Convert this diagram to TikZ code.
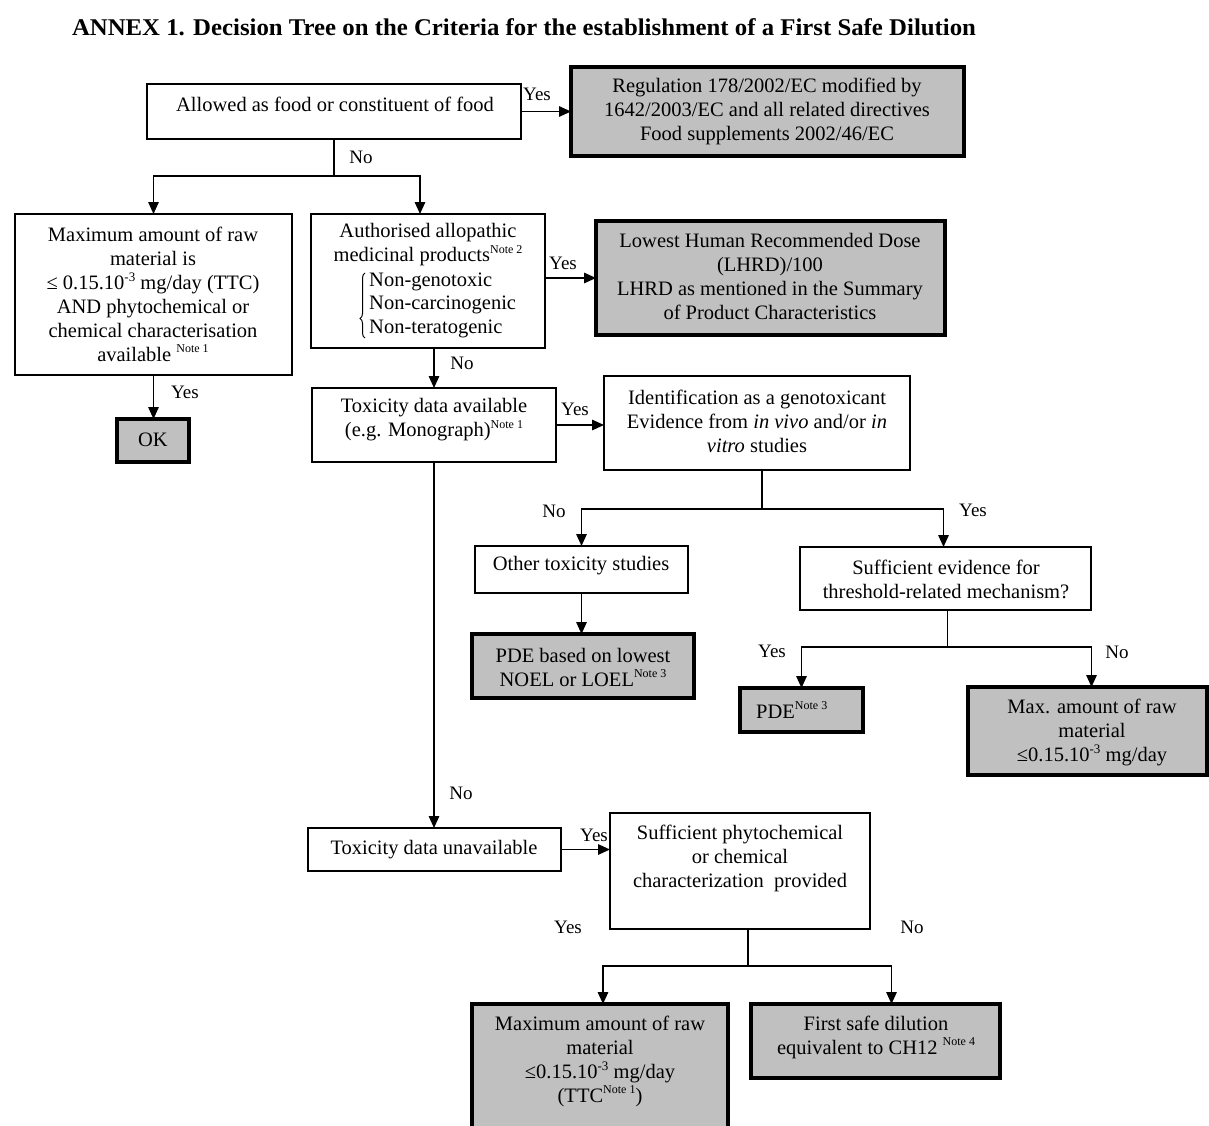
\documentclass[tikz,border=0pt]{standalone}
\usepackage{fontspec}
\setmainfont{Liberation Serif}
\usepackage{graphicx}
\usetikzlibrary{arrows.meta,decorations.pathreplacing}
\definecolor{boxgray}{RGB}{192,192,192}
\newcommand{\nt}[1]{\raisebox{0.9ex}{\fontsize{12}{12}\selectfont #1}}
\newcommand{\spx}[1]{\raisebox{0.85ex}{\fontsize{13}{13}\selectfont #1}}
\newcommand{\boxnode}[6]{\node[#1, minimum width={#5-#3}, minimum height={#6-#4}] (#2) at (#3,#4) {};}
\begin{document}
\begin{tikzpicture}[x=1pt,y=-1pt,
  font=\fontsize{20.5}{24}\selectfont,
  plain/.style={draw=black, line width=1.3pt, inner sep=0pt, outer sep=0pt, anchor=north west},
  result/.style={draw=black, fill=boxgray, line width=3.2pt, inner sep=0pt, outer sep=0pt, anchor=north west},
  txt/.style={align=center, inner sep=0pt},
  conn/.style={line width=1.5pt},
  arr/.style={conn, -{Triangle[length=12pt,width=10.5pt]}},
  lbl/.style={inner sep=0pt, font=\fontsize{19}{22}\selectfont}]
\useasboundingbox (0,0) rectangle (1209,1126);
\fill[white] (0,0) rectangle (1209,1126);

% title
\node[inner sep=0pt] (title) at (524,27) {\resizebox{904pt}{\height}{\fontsize{24}{26}\selectfont\bfseries ANNEX 1. Decision Tree on the Criteria for the establishment of a First Safe Dilution}};

% boxes
\boxnode{plain}{a1}{147}{84}{521}{139}
\boxnode{result}{reg}{571}{67}{964}{156}
\boxnode{plain}{max1}{15}{214}{292}{375}
\boxnode{result}{ok}{117}{419}{189}{462}
\boxnode{plain}{auth}{311}{214}{545}{348}
\boxnode{result}{lhrd}{596}{221}{945}{335}
\boxnode{plain}{tox}{312}{388}{556}{462}
\boxnode{plain}{ident}{604}{376}{910}{470}
\boxnode{plain}{other}{475}{546}{688}{593}
\boxnode{result}{pde1}{472}{634}{694}{698}
\boxnode{plain}{suff}{800}{547}{1091}{610}
\boxnode{result}{pde2}{740}{688}{863}{732}
\boxnode{result}{max2}{968}{687}{1207}{775}
\boxnode{plain}{unav}{308}{828}{561}{871}
\boxnode{plain}{charz}{610}{813}{870}{929}
\boxnode{result}{maxf}{472}{1004}{728}{1135}
\boxnode{result}{first}{751}{1004}{1000}{1078}

% texts
\node[txt] (a1t) at (335,104) {Allowed as food or constituent of food};
\node[txt] (regt) at (767,111) {Regulation 178/2002/EC modified by\\1642/2003/EC and all related directives\\Food supplements 2002/46/EC};
\node[txt] (max1t) at (153,294) {Maximum amount of raw\\material is\\≤ 0.15.10\spx{-3} mg/day (TTC)\\AND phytochemical or\\chemical characterisation\\available \nt{Note 1}};
\node[txt] (okt) at (153,440) {OK};
\node[txt] (autht) at (428,245) {Authorised allopathic\\medicinal products\nt{Note 2}};
\node[txt, align=left, anchor=west, font=\fontsize{20.5}{23.5}\selectfont] (authl) at (369,305) {Non-genotoxic\\Non-carcinogenic\\Non-teratogenic};
\draw[line width=1pt, decorate, decoration={brace, amplitude=5pt, aspect=0.3}] (365,338) -- (365,273);
\node[txt] (lhrdt) at (770,276) {Lowest Human Recommended Dose\\(LHRD)/100\\LHRD as mentioned in the Summary\\of Product Characteristics};
\node[txt] (toxt) at (434,420) {Toxicity data available\\(e.g. Monograph)\nt{Note 1}};
\node[txt] (identt) at (757,421) {Identification as a genotoxicant\\Evidence from \textit{in vivo} and/or \textit{in}\\\textit{vitro} studies};
\node[txt] (othert) at (581,566) {Other toxicity studies};
\node[txt] (pde1t) at (583,667) {PDE based on lowest\\NOEL or LOEL\nt{Note 3}};
\node[txt] (sufft) at (946,579) {Sufficient evidence for\\threshold-related mechanism?};
\node[txt, anchor=west] (pde2t) at (756,710) {PDE\nt{Note 3}};
\node[txt] (max2t) at (1092,732) {Max. amount of raw\\material\\≤0.15.10\spx{-3} mg/day};
\node[txt] (unavt) at (434,850) {Toxicity data unavailable};
\node[txt] (charzt) at (740,858) {Sufficient phytochemical\\or chemical\\characterization\ \ provided};
\node[txt] (maxft) at (600,1061) {Maximum amount of raw\\material\\≤0.15.10\spx{-3} mg/day\\(TTC\nt{Note 1})};
\node[txt] (firstt) at (876,1037) {First safe dilution\\equivalent to CH12 \nt{Note 4}};

% connectors
\coordinate (s1) at (a1.south |- 0,176);
\coordinate (s2) at ([xshift=5pt]ident.south |- 0,509);
\coordinate (s3) at ([xshift=2pt]suff.south |- 0,647);
\coordinate (s4) at ([xshift=8pt]charz.south |- 0,966);

\draw[arr] (a1.east) -- (a1.east -| reg.west);
\draw[conn] (a1.south) -- (s1);
\draw[arr] (s1) -| (max1.north);
\draw[arr] (s1) -| ([xshift=-8pt]auth.north);
\draw[arr] (max1.south) -- (max1.south |- ok.north);
\draw[arr] (lhrd.west -| auth.east) -- (lhrd.west);
\draw[arr] (auth.south -| tox.north) -- (tox.north);
\draw[arr] (tox.east) -- (tox.east -| ident.west);
\draw[conn] ([xshift=5pt]ident.south) -- (s2);
\draw[arr] (s2) -| (other.north);
\draw[arr] (s2) -| ([xshift=-2pt]suff.north);
\draw[arr] (other.south) -- (other.south |- pde1.north);
\draw[conn] ([xshift=2pt]suff.south) -- (s3);
\draw[arr] (s3) -| (pde2.north);
\draw[arr] (s3) -| ([xshift=4pt]max2.north);
\draw[arr] (tox.south) -- (tox.south |- unav.north);
\draw[arr] (unav.east) -- (unav.east -| charz.west);
\draw[conn] ([xshift=8pt]charz.south) -- (s4);
\draw[arr] (s4) -| ([xshift=3pt]maxf.north);
\draw[arr] (s4) -| ([xshift=16pt]first.north);

% labels
\node[lbl] (l1) at (537,94) {Yes};
\node[lbl] (l2) at (361,157) {No};
\node[lbl] (l3) at (185,392) {Yes};
\node[lbl] (l4) at (563,263) {Yes};
\node[lbl] (l5) at (462,363) {No};
\node[lbl] (l6) at (575,409) {Yes};
\node[lbl] (l7) at (554,511) {No};
\node[lbl] (l8) at (973,510) {Yes};
\node[lbl] (l9) at (772,651) {Yes};
\node[lbl] (l10) at (1117,652) {No};
\node[lbl] (l11) at (461,793) {No};
\node[lbl] (l12) at (594,835) {Yes};
\node[lbl] (l13) at (568,927) {Yes};
\node[lbl] (l14) at (912,927) {No};
\end{tikzpicture}
\end{document}
